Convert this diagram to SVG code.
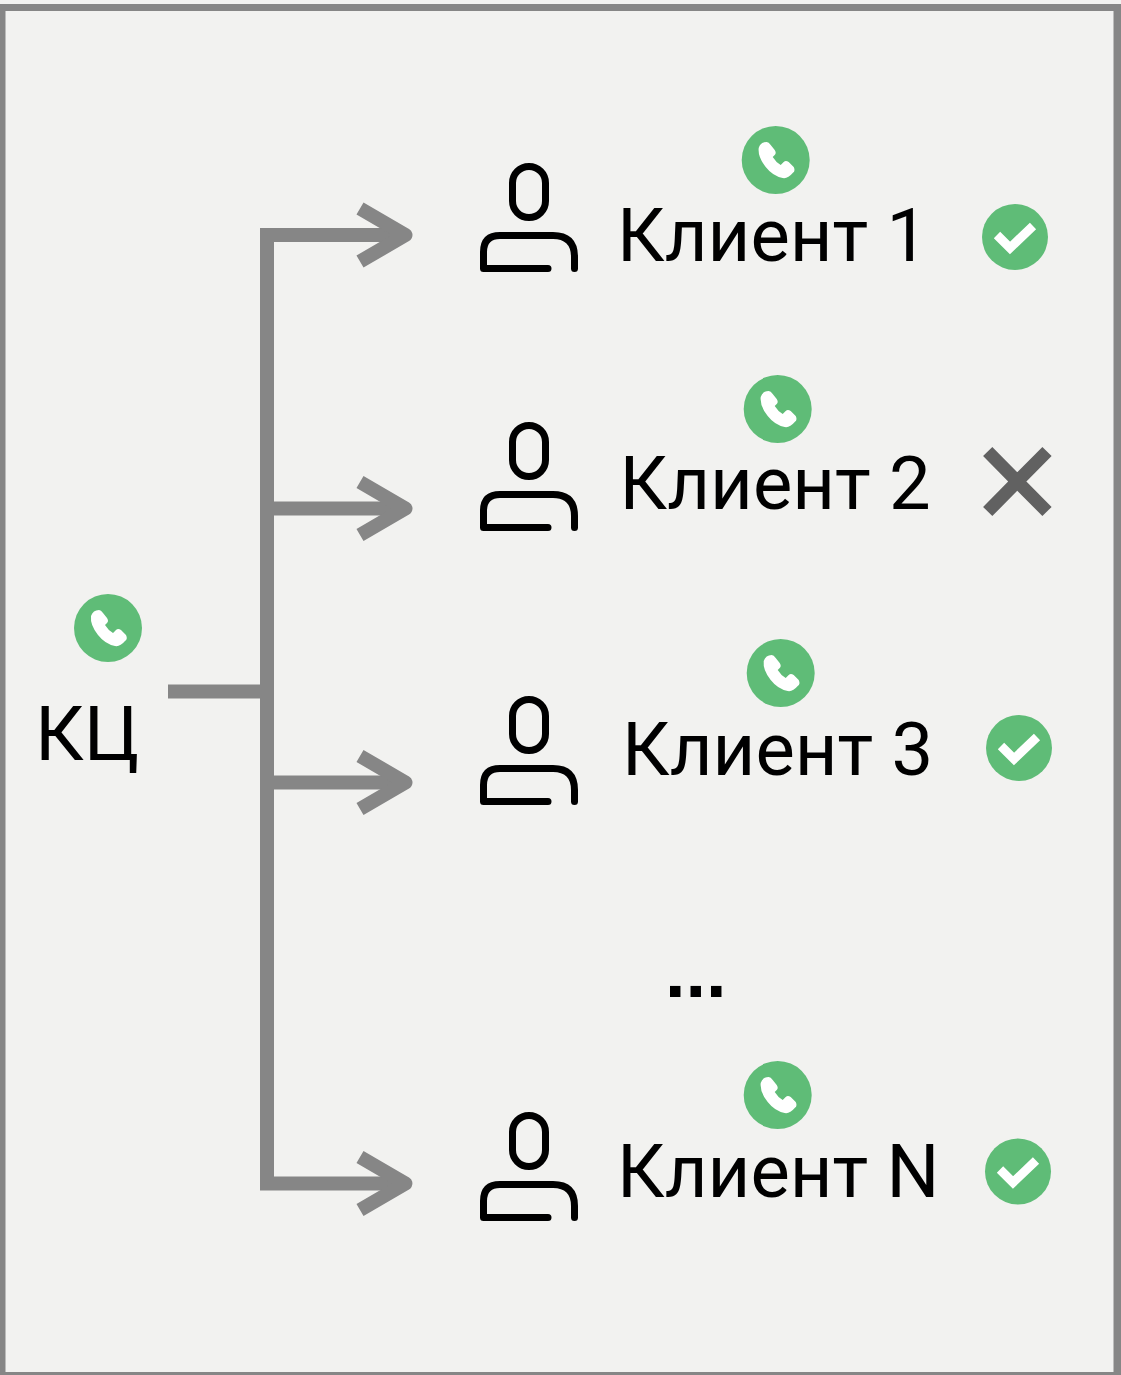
<svg xmlns="http://www.w3.org/2000/svg" width="1121" height="1375" viewBox="0 0 1121 1375">
<style>
.t{font-family:Roboto,"Liberation Sans",sans-serif;font-size:74.200px;fill:#000}
.k{font-family:Roboto,"Liberation Sans",sans-serif;font-size:76px;fill:#000}
.d{font-family:"Liberation Sans",Arial,sans-serif;font-weight:700;font-size:74px;fill:#000}
.c{fill:none;stroke:#868686;stroke-width:14}
.a{fill:none;stroke:#868686;stroke-width:14;stroke-linejoin:round}
.g{fill:#5fbc77}
.p{fill:none;stroke:#000;stroke-width:7;stroke-linecap:round;stroke-linejoin:round}
</style>
<defs>
<g id="person"><rect class="p" x="512.500" y="166.500" width="33" height="51" rx="16.500"/><path class="p" d="M548 268.500H483.500V252Q483.500 235.500 500 235.500H553Q574.500 235.500 574.500 257V268.500"/></g>
<g id="phone"><circle class="g" r="34"/><path fill="#fff" d="M-17-12Q-15-18-9-18Q-7-18-5-15L-1-10Q1-7-1-5L-3-3Q0 2 5 5L8 2Q10 0 13 2L18 7Q20 11 17 13Q12 19 7 18Q-3 16-10 7Q-18-3-17-12Z"/></g>
<g id="check"><circle class="g" r="33"/><path fill="none" stroke="#fff" stroke-width="9" d="M-18-2L-5 11L18-11"/></g>
<g id="arrow"><path class="a" d="M360 208.500L405.500 235L360 261.500"/></g>
</defs>
<rect width="1121" height="1375" fill="#f2f2f0"/>
<path fill="#868686" fill-rule="evenodd" d="M0 4H1121V1375H0ZM5.500 11V1372H1113.500V11Z"/>
<g id="connectors">
<path class="c" d="M168 691.500H267M267 228V1190M260 235H405M260 508.500H405M260 782.500H405M260 1183.500H405"/>
<use href="#arrow"/><use href="#arrow" y="273.500"/><use href="#arrow" y="547.500"/><use href="#arrow" y="948.500"/>
</g>
<g id="kc"><use href="#phone" x="108" y="628"/><text class="k" x="35" y="760">КЦ</text></g>
<g id="client1"><use href="#person"/><use href="#phone" x="775.700" y="160"/><text class="t" x="617" y="261">Клиент 1</text><use href="#check" x="1015" y="237"/></g>
<g id="client2"><use href="#person" y="259"/><use href="#phone" x="777.700" y="409"/><text class="t" x="619.500" y="509">Клиент 2</text><path fill="none" stroke="#616161" stroke-width="13" d="M987.700 451.500L1047 511.500M1047 451.500L987.700 511.500"/></g>
<g id="client3"><use href="#person" y="533"/><use href="#phone" x="780.700" y="673"/><text class="t" x="622" y="775">Клиент 3</text><use href="#check" x="1019" y="748"/></g>
<g id="dots"><text class="d" x="665" y="997">...</text></g>
<g id="clientN"><use href="#person" y="949"/><use href="#phone" x="777.700" y="1095"/><text class="t" x="617" y="1197">Клиент N</text><use href="#check" x="1018" y="1171.500"/></g>
</svg>
